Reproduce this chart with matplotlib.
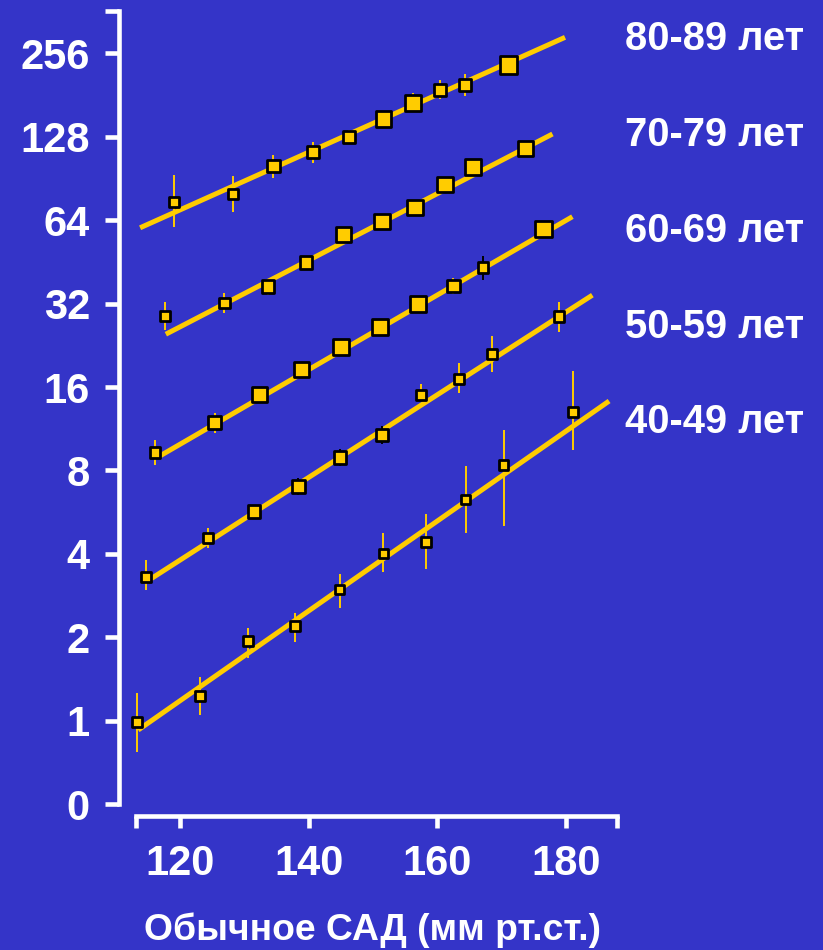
import numpy as np
import matplotlib.pyplot as plt
from matplotlib.ticker import FixedLocator, FixedFormatter, NullLocator

plt.rcParams['font.family'] = ['Liberation Sans', 'DejaVu Sans']

BG = '#3434c8'
GOLD = '#ffcc00'

# usual systolic pressure (mmHg) and relative mortality per age group
sbp_80 = [119.1, 128.2, 134.5, 140.7, 146.3, 151.6, 156.2, 160.4, 164.3, 171.0]
risk_80 = [74.3, 79.4, 100.2, 112.5, 127.5, 148.0, 169.0, 188.3, 196.3, 231.8]
lo_80 = [60.4, 68.4, 90.7, 103.0, 120.3, 140.8, 157.0, 174.8, 179.6, 220.6]
hi_80 = [93.0, 92.2, 109.8, 122.6, 135.2, 155.5, 183.0, 204.6, 215.0, 243.6]

sbp_70 = [117.7, 126.9, 133.7, 139.6, 145.4, 151.4, 156.5, 161.2, 165.6, 173.7]
risk_70 = [28.9, 32.2, 36.8, 45.0, 56.8, 63.1, 71.1, 86.1, 99.6, 116.1]
lo_70 = [25.7, 29.6, 34.4, 43.2, 54.5, 60.6, 68.2, 82.6, 95.6, 111.4]
hi_70 = [32.5, 34.9, 39.3, 46.9, 59.2, 65.8, 74.1, 89.7, 103.8, 121.0]

sbp_60 = [116.1, 125.4, 132.4, 138.9, 145.0, 151.1, 157.0, 162.5, 167.1, 176.5]
risk_60 = [9.30, 11.94, 15.06, 18.53, 22.36, 26.4, 31.9, 37.0, 43.1, 59.3]
lo_60 = [8.37, 10.92, 14.45, 17.8, 21.5, 25.3, 30.6, 34.5, 39.0, 56.9]
hi_60 = [10.31, 12.9, 15.7, 19.3, 23.3, 27.5, 33.2, 39.7, 47.6, 61.8]

sbp_50 = [114.7, 124.4, 131.5, 138.4, 144.9, 151.4, 157.5, 163.4, 168.5, 178.9]
risk_50 = [3.30, 4.58, 5.68, 7.02, 8.93, 10.74, 14.97, 17.10, 21.04, 28.7]
lo_50 = [2.97, 4.20, 5.45, 6.54, 8.32, 9.96, 14.36, 15.2, 18.1, 25.3]
hi_50 = [3.81, 4.96, 5.92, 7.53, 9.58, 11.58, 16.4, 19.5, 24.4, 32.4]

sbp_40 = [113.3, 123.1, 130.6, 137.9, 144.8, 151.6, 158.2, 164.4, 170.3, 181.1]
risk_40 = [0.99, 1.23, 1.94, 2.20, 2.98, 4.02, 4.41, 6.30, 8.37, 13.0]
lo_40 = [0.775, 1.05, 1.69, 1.93, 2.56, 3.45, 3.53, 4.77, 5.05, 9.48]
hi_40 = [1.26, 1.44, 2.16, 2.46, 3.39, 4.76, 5.57, 8.32, 11.2, 18.2]

# regression line end points
fit_x = {'80': [113.8, 179.85], '70': [117.8, 177.9], '60': [116.6, 181.0],
         '50': [114.8, 184.1], '40': [113.5, 186.7]}
fit_y = {'80': [60.0, 291.6], '70': [24.8, 130.7], '60': [8.95, 65.8],
         '50': [3.18, 34.3], '40': [0.928, 14.24]}

labels = ['80-89 лет', '70-79 лет', '60-69 лет', '50-59 лет', '40-49 лет']

y_ticks = [0.5, 1, 2, 4, 8, 16, 32, 64, 128, 256, 362]
y_tick_labels = ['0', '1', '2', '4', '8', '16', '32', '64', '128', '256', '']
x_ticks = [113.2, 120, 140, 160, 180, 188]
x_tick_labels = ['', '120', '140', '160', '180', '']

# marker sizes (outer px) and error bar colours
marker_px = {
    '80': [10.7, 10.7, 12.7, 12.7, 12.7, 15.3, 15.3, 12, 12.7, 16.7],
    '70': [10.7, 10.7, 12.7, 12.7, 14.7, 15.3, 15.3, 15.3, 16, 15.3],
    '60': [10.7, 12.7, 15.3, 15.3, 16, 16, 16, 12.7, 10.7, 16],
    '50': [10, 10.7, 12.7, 12.7, 12.7, 12.7, 10.7, 10.7, 10.7, 10.7],
    '40': [10] * 10,
}
bar_colors = {k: [GOLD] * 10 for k in marker_px}
bar_colors['60'][3] = 'black'
bar_colors['60'][8] = 'black'
for i in (3, 4, 5):
    bar_colors['50'][i] = 'black'

groups = [
    ('80', sbp_80, risk_80, lo_80, hi_80),
    ('70', sbp_70, risk_70, lo_70, hi_70),
    ('60', sbp_60, risk_60, lo_60, hi_60),
    ('50', sbp_50, risk_50, lo_50, hi_50),
    ('40', sbp_40, risk_40, lo_40, hi_40),
]

W, H = 823, 950
fig = plt.figure(figsize=(W / 100, H / 100), dpi=100, facecolor=BG)
ax = fig.add_axes([119 / W, (H - 815.5) / H, (W - 119) / W, 815.5 / H])
ax.set_facecolor(BG)
ax.set_yscale('log', base=2)
ax.set_xlim(110.52, 219.95)
ax.set_ylim(2 ** -1.132, 2 ** 8.635)

mew = 2.0
for key, x, y, lo, hi in groups:
    ax.plot(fit_x[key], fit_y[key], color=GOLD, lw=3.6, solid_capstyle='butt', zorder=2)
    ax.vlines(x, lo, hi, colors=bar_colors[key], lw=1.4, zorder=3)
    side = np.array(marker_px[key]) * 0.72 * 1.12 - mew * 0.6
    ax.scatter(x, y, s=side ** 2, marker='s', facecolor=GOLD, edgecolor='black',
               linewidths=mew, zorder=4)

for s in ('top', 'right'):
    ax.spines[s].set_visible(False)
for s in ('left', 'bottom'):
    ax.spines[s].set_color('white')
    ax.spines[s].set_linewidth(3.3)
ax.spines['left'].set_bounds(0.5, 362)
ax.spines['bottom'].set_bounds(113.2, 188)

ax.yaxis.set_major_locator(FixedLocator(y_ticks))
ax.yaxis.set_major_formatter(FixedFormatter(y_tick_labels))
ax.yaxis.set_minor_locator(NullLocator())
ax.xaxis.set_major_locator(FixedLocator(x_ticks))
ax.xaxis.set_major_formatter(FixedFormatter(x_tick_labels))

ax.tick_params(axis='y', direction='out', length=10, width=3.3, color='white',
               pad=11, labelsize=30, labelcolor='white')
ax.tick_params(axis='x', direction='out', length=8.6, width=3.3, color='white',
               pad=12, labelsize=30, labelcolor='white')
for t in ax.get_xticklabels() + ax.get_yticklabels():
    t.set_fontweight('bold')

baselines = [50, 146.5, 242.5, 338.3, 433.3]
for text, yb in zip(labels, baselines):
    fig.text(625 / W, 1 - yb / H, text, fontsize=28.7, fontweight='bold',
             color='white', ha='left', va='baseline')

fig.text(372.5 / W, 1 - 940 / H, 'Обычное САД (мм рт.ст.)', fontsize=26.8,
         fontweight='bold', color='white', ha='center', va='baseline')

fig.savefig('out.png', dpi=100, facecolor=BG)
